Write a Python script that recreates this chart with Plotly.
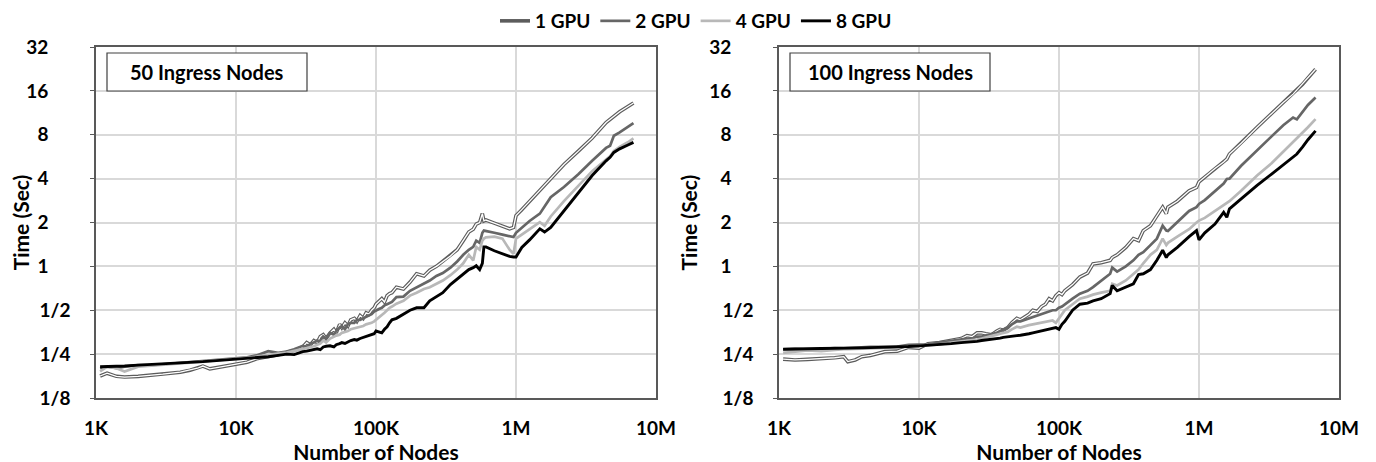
import plotly.graph_objects as go

# ---------------- data ----------------
series_names = ["1 GPU", "2 GPU", "4 GPU", "8 GPU"]

# Left panel: 50 ingress nodes (x in thousands of nodes, y in seconds)
nodes_50_k = [1.07, 1.2, 1.4, 1.6, 2, 2.5, 3, 4, 4.7, 5.3, 5.8, 6.5, 8, 10, 12, 14, 17, 20, 23, 26,
              30, 32, 34, 36, 38, 40, 42, 44, 47, 50, 52, 55, 57, 60, 63, 66, 70, 73, 77, 81, 85, 89,
              93, 97, 100, 105, 110, 115, 120, 125, 130, 140, 157, 175, 195,
              220, 242, 270, 300, 340, 380, 420, 460, 495, 520, 550, 575, 590, 610, 700, 800, 900, 960,
              1000, 1100, 1250, 1480, 1600, 1770, 2200, 2800, 3500, 4400, 4700, 5000, 5500, 6300, 6900]
time_50_1gpu = [0.177, 0.185, 0.176, 0.174, 0.176, 0.179, 0.182, 0.188, 0.194, 0.2, 0.207, 0.198, 0.205,
                0.212, 0.22, 0.232, 0.24, 0.248, 0.258, 0.265,
                0.28, 0.3, 0.29, 0.31, 0.3, 0.33, 0.34, 0.32, 0.35, 0.37, 0.35, 0.4, 0.38, 0.41, 0.39,
                0.43, 0.44, 0.42, 0.46, 0.44, 0.48, 0.47, 0.5, 0.52, 0.55, 0.58, 0.6, 0.57, 0.63, 0.65,
                0.66, 0.72, 0.7, 0.78, 0.89, 0.86, 0.94,
                1.0, 1.08, 1.18, 1.3, 1.5, 1.72, 1.8, 1.95, 2.0, 2.3, 2.05, 2.08, 1.98, 1.9, 1.81, 1.85,
                2.23, 2.45, 2.8, 3.3, 3.6, 4.0, 5.0, 6.2, 7.6, 9.7, 10.2, 10.7, 11.5, 12.5, 13.2]
time_50_2gpu = [0.2, 0.205, 0.2, 0.205, 0.21, 0.21, 0.213, 0.218, 0.22, 0.222, 0.225, 0.226, 0.23, 0.235,
                0.238, 0.245, 0.262, 0.255, 0.26, 0.27,
                0.285, 0.28, 0.295, 0.3, 0.31, 0.305, 0.33, 0.32, 0.35, 0.34, 0.36, 0.38, 0.39, 0.37,
                0.4, 0.41, 0.41, 0.43, 0.43, 0.44, 0.45, 0.46, 0.47, 0.49, 0.5, 0.51, 0.52, 0.54, 0.55,
                0.56, 0.57, 0.615, 0.62, 0.68, 0.72, 0.76, 0.8, 0.86,
                0.9, 0.98, 1.08, 1.2, 1.3, 1.36, 1.5, 1.45, 1.7, 1.76, 1.75, 1.7, 1.65, 1.6, 1.59, 1.7,
                1.85, 2.05, 2.3, 2.6, 2.98, 3.5, 4.3, 5.3, 6.5, 6.73, 7.87, 8.3, 9.0, 9.6]
time_50_4gpu = [0.19, 0.205, 0.2, 0.19, 0.205, 0.208, 0.212, 0.215, 0.218, 0.22, 0.222, 0.225, 0.228,
                0.233, 0.236, 0.24, 0.248, 0.252, 0.256, 0.262,
                0.27, 0.275, 0.28, 0.283, 0.29, 0.295, 0.31, 0.3, 0.32, 0.33, 0.335, 0.34, 0.35, 0.355,
                0.36, 0.37, 0.375, 0.38, 0.385, 0.39, 0.4, 0.405, 0.41, 0.42, 0.43, 0.45, 0.46, 0.48,
                0.5, 0.52, 0.53, 0.555, 0.58, 0.63, 0.66, 0.7, 0.72,
                0.76, 0.8, 0.87, 0.95, 1.05, 1.2, 1.1, 1.36, 1.3, 1.5, 1.55, 1.58, 1.6, 1.55, 1.3, 1.22,
                1.55, 1.65, 1.8, 2.01, 1.9, 2.2, 2.8, 3.6, 4.5, 5.4, 5.7, 6.2, 6.6, 7.1, 7.55]
time_50_8gpu = [0.205, 0.205, 0.207, 0.207, 0.21, 0.212, 0.214, 0.217, 0.22, 0.221, 0.222, 0.224, 0.227,
                0.23, 0.232, 0.236, 0.24, 0.245, 0.25, 0.248,
                0.26, 0.262, 0.265, 0.27, 0.272, 0.268, 0.28, 0.283, 0.285, 0.28, 0.29, 0.295, 0.3,
                0.296, 0.305, 0.31, 0.315, 0.312, 0.32, 0.325, 0.33, 0.335, 0.34, 0.345, 0.36, 0.355,
                0.35, 0.37, 0.385, 0.41, 0.43, 0.44, 0.47, 0.5, 0.52, 0.52,
                0.58, 0.62, 0.66, 0.75, 0.82, 0.88, 0.95, 0.98, 1.01, 0.95, 1.05, 1.36, 1.36, 1.28, 1.22,
                1.17, 1.16, 1.16, 1.35, 1.52, 1.81, 1.72, 1.85, 2.4, 3.2, 4.2, 5.3, 5.6, 6.05, 6.4, 6.8, 7.09]

# Right panel: 100 ingress nodes
nodes_100_k = [1.07, 1.3, 1.6, 2, 2.5, 2.9, 3.1, 3.5, 3.9, 4.5, 5.7, 7, 8.4, 10, 11.6, 14, 17,
               20, 22, 24, 26, 28, 30, 33, 36, 38, 40, 43, 46, 50, 53, 57, 61, 65, 70, 75, 80, 85, 90,
               95, 100, 105, 110, 125, 141, 160, 175, 200, 232, 240, 260, 300,
               340, 370, 400, 450, 500, 550, 584, 600, 700, 850, 960, 1000, 1100, 1300, 1500, 1580, 1650,
               2000, 2600, 3300, 4000, 4700, 5000, 5500, 6000, 6800]
time_100_1gpu = [0.231, 0.228, 0.23, 0.232, 0.236, 0.24, 0.222, 0.228, 0.24, 0.245, 0.26, 0.262, 0.278,
                 0.275, 0.295, 0.3, 0.31,
                 0.32, 0.335, 0.33, 0.35, 0.35, 0.345, 0.34, 0.36, 0.37, 0.365, 0.38, 0.41, 0.44, 0.43,
                 0.45, 0.47, 0.5, 0.49, 0.53, 0.55, 0.6, 0.58, 0.63, 0.66, 0.64, 0.68,
                 0.75, 0.845, 0.9, 1.04, 1.06, 1.1, 1.15, 1.2, 1.35, 1.55, 1.5, 1.76,
                 1.9, 2.2, 2.55, 2.3, 2.55, 2.8, 3.3, 3.48, 3.8, 4.1, 4.7, 5.2, 5.45, 5.9, 7.0, 9.0, 11.2,
                 13.3, 15.2, 16.2, 17.8, 19.6, 22.5]
time_100_2gpu = [0.27, 0.272, 0.268, 0.272, 0.275, 0.274, 0.275, 0.277, 0.278, 0.28, 0.28, 0.282, 0.29,
                 0.29, 0.292, 0.3, 0.31,
                 0.315, 0.32, 0.32, 0.33, 0.33, 0.335, 0.34, 0.35, 0.36, 0.37, 0.38, 0.4, 0.42, 0.42,
                 0.43, 0.44, 0.45, 0.46, 0.47, 0.48, 0.49, 0.5, 0.5, 0.52, 0.53, 0.55,
                 0.6, 0.65, 0.68, 0.72, 0.8, 0.89, 0.98, 0.92, 1.0, 1.1, 1.2, 1.25, 1.4,
                 1.55, 1.9, 1.76, 1.75, 2.0, 2.4, 2.55, 2.68, 2.85, 3.3, 3.7, 3.98, 4.0, 4.9, 6.3, 7.8,
                 9.3, 10.5, 10.2, 11.5, 12.8, 14.4]
time_100_4gpu = [0.255, 0.26, 0.265, 0.262, 0.268, 0.27, 0.27, 0.272, 0.272, 0.274, 0.276, 0.278, 0.282,
                 0.285, 0.288, 0.292, 0.3,
                 0.305, 0.31, 0.312, 0.315, 0.32, 0.325, 0.33, 0.34, 0.345, 0.35, 0.355, 0.37, 0.385,
                 0.38, 0.39, 0.395, 0.4, 0.405, 0.41, 0.415, 0.42, 0.425, 0.41, 0.44, 0.47, 0.5,
                 0.55, 0.6, 0.62, 0.64, 0.66, 0.68, 0.76, 0.74, 0.8, 0.88, 0.95,
                 1.05, 1.2, 1.3, 1.55, 1.4, 1.45, 1.6, 1.8, 2.0, 2.06, 2.15, 2.4, 2.65, 2.75, 2.8, 3.3,
                 4.2, 5.1, 6.1, 7.1, 7.5, 8.2, 9.0, 10.25]
time_100_8gpu = [0.27, 0.272, 0.272, 0.273, 0.273, 0.274, 0.275, 0.275, 0.276, 0.277, 0.278, 0.28, 0.282,
                 0.285, 0.287, 0.29, 0.295,
                 0.3, 0.302, 0.303, 0.306, 0.31, 0.312, 0.315, 0.318, 0.322, 0.326, 0.33, 0.332, 0.335,
                 0.337, 0.34, 0.345, 0.35, 0.355, 0.36, 0.365, 0.37, 0.375, 0.38, 0.37, 0.4, 0.42,
                 0.5, 0.55, 0.56, 0.58, 0.6, 0.65, 0.74, 0.68, 0.72, 0.76, 0.88,
                 0.89, 0.95, 1.1, 1.29, 1.15, 1.2, 1.35, 1.6, 1.76, 1.52, 1.7, 1.95, 2.35, 2.17, 2.48, 2.9,
                 3.6, 4.3, 5.0, 5.6, 5.9, 6.6, 7.4, 8.5]

panel_titles = ["50 Ingress Nodes", "100 Ingress Nodes"]
x_tick_vals = [1e3, 1e4, 1e5, 1e6, 1e7]
x_tick_text = ["1K", "10K", "100K", "1M", "10M"]
y_tick_vals = [0.125, 0.25, 0.5, 1, 2, 4, 8, 16, 32]
y_tick_text = ["1/8", "1/4", "1/2", "1", "2", "4", "8", "16", "32"]
x_title = "Number of Nodes"
y_title = "Time (Sec)"

# ---------------- styling ----------------
W, H = 1376, 462
FONT = "Lato"
colors = {"1 GPU": "#5c5c5c", "2 GPU": "#666666", "4 GPU": "#b8b8b8", "8 GPU": "#000000"}
widths = {"1 GPU": 3.6, "2 GPU": 2.7, "4 GPU": 2.7, "8 GPU": 2.9}

# figure pixel coordinates (page is offset by the 8px body margin)
plot_top, plot_bot = 39, 390
panels_px = [(88, 648), (771, 1331)]
ydom = [1 - plot_bot / H, 1 - plot_top / H]

fig = go.Figure()

panel_data = [
    (nodes_50_k, [time_50_1gpu, time_50_2gpu, time_50_4gpu, time_50_8gpu]),
    (nodes_100_k, [time_100_1gpu, time_100_2gpu, time_100_4gpu, time_100_8gpu]),
]

for p, (xs_k, ys_list) in enumerate(panel_data):
    xa = "x" if p == 0 else "x2"
    ya = "y" if p == 0 else "y2"
    xs = [v * 1000 for v in xs_k]
    for name, ys in zip(series_names, ys_list):
        fig.add_trace(go.Scatter(
            x=xs, y=ys, name=name, mode="lines", xaxis=xa, yaxis=ya,
            line=dict(color=colors[name], width=widths[name]),
            legendgroup=name, showlegend=(p == 0), hoverinfo="skip"))
        if name == "1 GPU":
            # white core -> double line look
            fig.add_trace(go.Scatter(
                x=xs, y=ys, name=name, mode="lines", xaxis=xa, yaxis=ya,
                line=dict(color="#ffffff", width=1.3),
                legendgroup=name, showlegend=False, hoverinfo="skip"))

axis_common = dict(
    showgrid=True, gridcolor="#d9d9d9", gridwidth=1.5,
    showline=True, linecolor="#595959", linewidth=1.5, mirror=True,
    zeroline=False,
)

y_tick_text_padded = [t if "/" in t else t + "\u2007\u2007" for t in y_tick_text]
tick_font = dict(size=19, family=FONT, color="#000", weight="bold")
title_font = dict(size=21, family=FONT, color="#000", weight="bold")

for p, (x0, x1) in enumerate(panels_px):
    sfx = "" if p == 0 else "2"
    fig.update_layout(**{
        "xaxis" + sfx: dict(
            axis_common, type="log", range=[3, 7], domain=[x0 / W, x1 / W],
            anchor="y" + sfx, tickvals=x_tick_vals, ticktext=x_tick_text,
            ticks="", ticklabelstandoff=12,
            title=dict(text=x_title, standoff=0, font=title_font),
            tickfont=tick_font,
        ),
        "yaxis" + sfx: dict(
            axis_common, type="log", range=[-0.90309, 1.50515], domain=ydom,
            anchor="x" + sfx, tickvals=y_tick_vals, ticktext=y_tick_text_padded,
            ticks="outside", ticklen=4, tickcolor="#595959", ticklabelstandoff=16,
            title=dict(text=y_title, standoff=6, font=title_font),
            tickfont=tick_font,
        ),
    })
    # panel label box
    bx0 = x0 + 11
    bx1 = bx0 + 200
    fig.add_shape(type="rect", xref="paper", yref="paper",
                  x0=bx0 / W, x1=bx1 / W, y0=1 - 83 / H, y1=1 - 45 / H,
                  line=dict(color="#404040", width=1.2), fillcolor="white", layer="above")
    fig.add_annotation(xref="paper", yref="paper", x=(bx0 + bx1) / 2 / W, y=1 - 64 / H,
                       text=panel_titles[p], showarrow=False, xanchor="center", yanchor="middle",
                       font=dict(size=20, family=FONT, color="#000", weight="bold"))

fig.update_layout(
    width=W, height=H,
    margin=dict(l=0, r=0, t=0, b=0, autoexpand=False),
    paper_bgcolor="white", plot_bgcolor="white",
    font=dict(family=FONT, color="#000", weight="bold"),
    showlegend=True,
    legend=dict(orientation="h", x=0.5, xanchor="center", y=1.0 + 6 / H, yanchor="top",
                font=dict(size=19, family=FONT, color="#000", weight="bold"),
                itemwidth=30, tracegroupgap=0, bgcolor="rgba(0,0,0,0)"),
)

fig.write_html("out.html")
